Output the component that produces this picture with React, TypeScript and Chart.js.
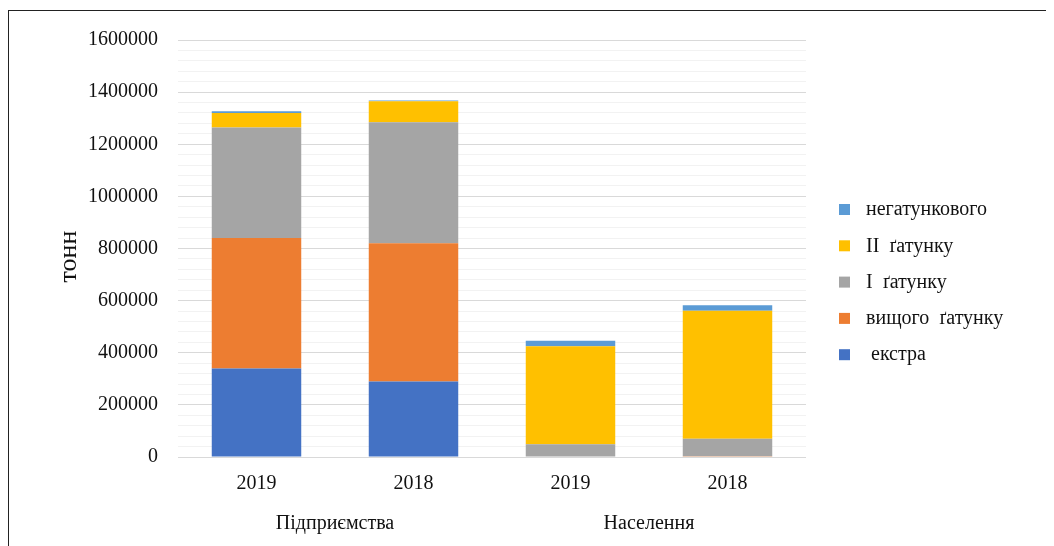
import React, { useEffect, useRef } from "react";
import { Chart, registerables } from "chart.js";

Chart.register(...registerables);

const yearLabels = ["2019", "2018", "2019", "2018"];
const groupLabels = ["Підприємства", "Населення"];

const ekstra = [340000, 290000, 0, 0];
const vyshchoho = [500000, 530000, 0, 3000];
const pershyi = [424000, 464000, 49000, 67000];
const druhyi = [56000, 81000, 376000, 491000];
const nehatunkovoho = [7000, 3000, 21000, 21000];

const seriesNames = [" екстра", "вищого  ґатунку", "I  ґатунку", "II  ґатунку", "негатункового"];
const seriesColors = ["#4472C4", "#ED7D31", "#A5A5A5", "#FFC000", "#5B9BD5"];

const yTitle = "тонн";
const FONT = "'Liberation Serif', 'Times New Roman', serif";

const extrasPlugin = {
  id: "extras",
  afterDraw(chart: any) {
    const ctx = chart.ctx;
    const area = chart.chartArea;
    const ds = chart.data.datasets;
    const boxX = area.right + 33;
    const textX = area.right + 60;
    const y0 = 199;
    const step = 36.3;
    ctx.save();
    ctx.font = `20px ${FONT}`;
    ctx.textBaseline = "middle";
    ctx.textAlign = "left";
    for (let i = ds.length - 1, k = 0; i >= 0; i--, k++) {
      const y = y0 + k * step;
      ctx.fillStyle = ds[i].backgroundColor;
      ctx.fillRect(boxX, y - 6, 11, 11);
      ctx.fillStyle = "#111";
      ctx.fillText(ds[i].label, textX, y);
    }
    // y axis title
    ctx.translate(60, (area.top + area.bottom) / 2 + 8);
    ctx.rotate(-Math.PI / 2);
    ctx.font = `26px ${FONT}`;
    ctx.textAlign = "center";
    ctx.fillStyle = "#111";
    ctx.fillText(yTitle, 0, 0);
    ctx.restore();
  },
};

export default function App() {
  const ref = useRef<HTMLCanvasElement>(null);
  useEffect(() => {
    if (!ref.current) return;
    const values = [ekstra, vyshchoho, pershyi, druhyi, nehatunkovoho];
    const chart = new Chart(ref.current, {
      type: "bar",
      data: {
        labels: yearLabels,
        datasets: values.map((v, i) => ({
          label: seriesNames[i],
          data: v,
          backgroundColor: seriesColors[i],
          borderWidth: 0,
          categoryPercentage: 1,
          barPercentage: 0.57,
        })),
      },
      options: {
        animation: false,
        responsive: false,
        maintainAspectRatio: false,
        layout: { padding: { left: 46, top: 29, right: 248, bottom: 12 } },
        plugins: { legend: { display: false }, tooltip: { enabled: false } },
        scales: {
          x: {
            stacked: true,
            weight: 0,
            grid: { display: false, drawTicks: false },
            border: { display: false },
            ticks: { padding: 15, color: "#111", font: { family: FONT, size: 20 } },
            afterFit: (s: any) => {
              s.height = 37;
            },
          },
          x2: {
            type: "category",
            labels: groupLabels,
            position: "bottom",
            weight: 1,
            offset: true,
            grid: { display: false, drawTicks: false },
            border: { display: false },
            ticks: { padding: 18, color: "#111", font: { family: FONT, size: 20 } },
            afterFit: (s: any) => {
              s.height = 40;
            },
          },
          y: {
            stacked: true,
            min: 0,
            max: 1600000,
            border: { display: false },
            grid: {
              drawTicks: false,
              color: (c: any) => (c.tick && c.tick.value % 200000 === 0 ? "#d9d9d9" : "#f2f2f2"),
            },
            ticks: {
              stepSize: 40000,
              maxTicksLimit: 100,
              autoSkip: false,
              padding: 20,
              color: "#111",
              font: { family: FONT, size: 20 },
              callback: (v: any) => (Number(v) % 200000 === 0 ? String(v) : ""),
            },
            afterFit: (s: any) => {
              s.width = 123;
              s.paddingTop = 0;
              s.paddingBottom = 0;
            },
          },
        },
      },
      plugins: [extrasPlugin],
    });
    return () => chart.destroy();
  }, []);
  return (
    <div style={{ paddingTop: 2 }}>
      <div
        style={{
          borderLeft: "1px solid #222",
          borderTop: "1px solid #222",
          width: 1045,
          height: 535,
          boxSizing: "content-box",
        }}
      >
        <canvas ref={ref} width={1045} height={535} style={{ display: "block" }} />
      </div>
    </div>
  );
}
